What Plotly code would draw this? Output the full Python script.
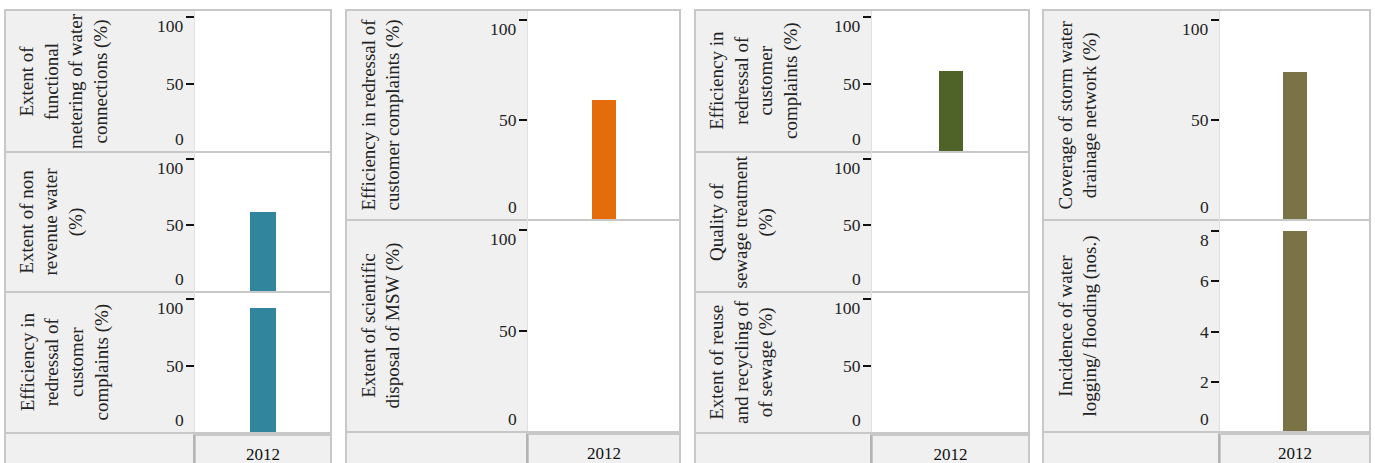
import plotly.graph_objects as go

# ---------------- data ----------------
years = ["2012"]

# Panel 1 - water supply
water_metering = [None]
water_nrw = [60]
water_complaints = [93]
# Panel 2 - solid waste
swm_complaints = [60]
swm_disposal = [None]
# Panel 3 - sewerage
sewage_complaints = [60]
sewage_quality = [None]
sewage_reuse = [None]
# Panel 4 - storm water
storm_coverage = [74]
storm_flooding = [8]

pct_ticks = [0, 50, 100]
count_ticks = [0, 2, 4, 6, 8]

titles_p1 = ["Extent of<br>functional<br>metering of water<br>connections (%)",
             "Extent of non<br>revenue water<br>(%)",
             "Efficiency in<br>redressal of<br>customer<br>complaints (%)"]
titles_p2 = ["Efficiency in redressal of<br>customer complaints (%)",
             "Extent of scientific<br>disposal of MSW (%)"]
titles_p3 = ["Efficiency in<br>redressal of<br>customer<br>complaints (%)",
             "Quality of<br>sewage treatment<br>(%)",
             "Extent of reuse<br>and recycling of<br>of sewage (%)"]
titles_p4 = ["Coverage of storm water<br>drainage network (%)",
             "Incidence of water<br>logging/ flooding (nos.)"]

colors = ["#31859c", "#e46c0a", "#4f6228", "#7a7346"]

# ---------------- layout geometry (pixels) ----------------
W, H = 1375, 463
FONT = "Liberation Serif"
panels = [
    dict(L=5, PL=195, R=331, rows=[(10, 152), (152, 292), (292, 433)], barpx=26,
         series=[water_metering, water_nrw, water_complaints], titles=titles_p1,
         ticks=[pct_ticks] * 3, top=[105] * 3),
    dict(L=346, PL=528, R=680, rows=[(10, 220), (220, 432)], barpx=24,
         series=[swm_complaints, swm_disposal], titles=titles_p2,
         ticks=[pct_ticks] * 2, top=[105] * 2),
    dict(L=695, PL=872, R=1029, rows=[(10, 152), (152, 292), (292, 433)], barpx=24,
         series=[sewage_complaints, sewage_quality, sewage_reuse], titles=titles_p3,
         ticks=[pct_ticks] * 3, top=[105] * 3),
    dict(L=1043, PL=1220, R=1370, rows=[(10, 220), (220, 432)], barpx=24,
         series=[storm_coverage, storm_flooding], titles=titles_p4,
         ticks=[pct_ticks, count_ticks], top=[105, 8.44]),
]


def px(x):
    return x / W


def py(y):
    return 1 - y / H


fig = go.Figure()
layout = {}
annotations = []
shapes = []
GRID = "#c8c8c8"
BG = "#f0f0f0"

idx = 0
for p_i, p in enumerate(panels):
    L, PL, R = p["L"], p["PL"], p["R"]
    T = p["rows"][0][0]
    B = p["rows"][-1][1]
    # label background
    shapes.append(dict(type="rect", xref="paper", yref="paper", x0=px(L), x1=px(PL),
                       y0=py(B), y1=py(T), fillcolor=BG, line=dict(width=0), layer="below"))
    # bottom strip boxes
    shapes.append(dict(type="rect", xref="paper", yref="paper", x0=px(L), x1=px(PL - 1),
                       y0=py(H + 2), y1=py(B), fillcolor=BG, line=dict(color=GRID, width=2),
                       layer="below"))
    shapes.append(dict(type="rect", xref="paper", yref="paper", x0=px(PL), x1=px(R),
                       y0=py(H + 2), y1=py(B + 2), fillcolor=BG, line=dict(color=GRID, width=2),
                       layer="below"))
    shapes.append(dict(type="line", xref="paper", yref="paper", x0=px(PL - 1), x1=px(PL - 1),
                       y0=py(H), y1=py(B + 2), line=dict(color="#a0a0a0", width=1)))
    nrows = len(p["rows"])
    for r, (top, bot) in enumerate(p["rows"]):
        idx += 1
        xa = "x" if idx == 1 else f"x{idx}"
        ya = "y" if idx == 1 else f"y{idx}"
        xk = "xaxis" if idx == 1 else f"xaxis{idx}"
        yk = "yaxis" if idx == 1 else f"yaxis{idx}"
        vals = p["series"][r]
        fig.add_trace(go.Bar(x=years, y=vals, xaxis=xa, yaxis=ya,
                             marker=dict(color=colors[p_i], line=dict(width=0)),
                             width=p["barpx"] / (R - PL), showlegend=False,
                             hoverinfo="x+y"))
        last = r == nrows - 1
        layout[xk] = dict(domain=[px(PL), px(R)], anchor=ya, type="category",
                          range=[-0.5, 0.5], showgrid=False, zeroline=False,
                          showline=False, showticklabels=last,
                          ticks="outside" if last else "", ticklen=6,
                          tickcolor="rgba(0,0,0,0)",
                          tickfont=dict(family=FONT, size=17, color="#111"))
        layout[yk] = dict(domain=[py(bot), py(top)], anchor=xa,
                          range=[0, p["top"][r]], showgrid=False, zeroline=False,
                          showline=False, showticklabels=False, ticks="outside",
                          ticklen=8, tickwidth=1.5, tickcolor="#111",
                          tickvals=p["ticks"][r])
        # flush tick labels
        tv = p["ticks"][r]
        for k, t in enumerate(tv):
            anchor = "bottom" if k == 0 else ("top" if k == len(tv) - 1 else "middle")
            annotations.append(dict(text=str(t), xref="paper", yref=ya, x=px(PL - 10), y=t,
                                    xanchor="right", yanchor=anchor, showarrow=False,
                                    yshift=2 if anchor != "middle" else 0,
                                    font=dict(family=FONT, size=17.5, color="#222"),
                                    borderpad=0))
        # row title
        annotations.append(dict(text=p["titles"][r], xref="paper", yref="paper",
                                x=px(L + 10), y=py((top + bot) / 2), xanchor="left",
                                yanchor="middle", textangle=-90, align="center",
                                showarrow=False, borderpad=0,
                                font=dict(family=FONT, size=19, color="#222")))
        # row separator
        if r > 0:
            shapes.append(dict(type="line", xref="paper", yref="paper", x0=px(L), x1=px(R),
                               y0=py(top), y1=py(top), line=dict(color=GRID, width=2)))
    shapes.append(dict(type="line", xref="paper", yref="paper", x0=px(PL - 0.5), x1=px(PL - 0.5),
                       y0=py(B), y1=py(T), line=dict(color="#e0e0e0", width=1)))
    shapes.append(dict(type="line", xref="paper", yref="paper", x0=px(L), x1=px(R),
                       y0=py(B), y1=py(B), line=dict(color=GRID, width=2)))
    # outer border
    shapes.append(dict(type="rect", xref="paper", yref="paper", x0=px(L), x1=px(R),
                       y0=py(H + 2), y1=py(T), line=dict(color=GRID, width=2),
                       fillcolor="rgba(0,0,0,0)"))

fig.update_layout(**layout)
fig.update_layout(width=W, height=H, margin=dict(l=0, r=0, t=0, b=0),
                  paper_bgcolor="white", plot_bgcolor="white",
                  annotations=annotations, shapes=shapes, bargap=0,
                  font=dict(family=FONT, size=17, color="#222"))

fig.write_html("out.html", config={"displayModeBar": False},
               post_script="document.body.style.margin='0px';document.body.style.overflow='hidden';")
